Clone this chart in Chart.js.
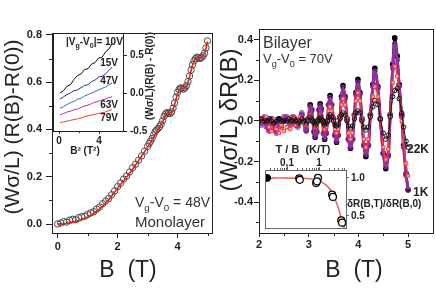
<!DOCTYPE html>
<html>
<head>
<meta charset="utf-8">
<script src="https://cdn.jsdelivr.net/npm/chart.js@4.4.1/dist/chart.umd.min.js"></script>
<style>
  html, body { margin: 0; padding: 0; background: #fff; }
  #fig { position: relative; width: 436px; height: 308px; overflow: hidden; }
  #fig canvas { position: absolute; left: 0; top: 0; }
</style>
</head>
<body>
<div id="fig">
  <canvas id="mono" width="436" height="308"></canvas>
  <canvas id="monoIn" width="436" height="308"></canvas>
  <canvas id="bil" width="436" height="308"></canvas>
  <canvas id="bilIn" width="436" height="308"></canvas>
</div>
<script>
const FONT = '"Liberation Sans", Arial, Helvetica, sans-serif';
const INK = '#222';

// ---------- monolayer (left panel) ----------
const monoB = [0, 0.1, 0.2, 0.3, 0.4, 0.5, 0.6, 0.7, 0.8, 0.9,
  1.0, 1.1, 1.2, 1.3, 1.4, 1.5, 1.6, 1.7, 1.8, 1.9,
  2.0, 2.1, 2.2, 2.3, 2.4, 2.5, 2.6, 2.7, 2.8, 2.9, 3.0,
  3.05, 3.1, 3.15, 3.2, 3.25, 3.3, 3.35, 3.4, 3.45, 3.5,
  3.55, 3.6, 3.65, 3.7, 3.75, 3.8, 3.85, 3.9, 3.95, 4.0,
  4.05, 4.1, 4.15, 4.2, 4.25, 4.3, 4.35, 4.4, 4.45, 4.5,
  4.55, 4.6, 4.65, 4.7, 4.75, 4.8, 4.85, 4.9, 4.95, 5.0];
const monoR = [0.000, 0.004, 0.010, 0.008, 0.016, 0.020, 0.018, 0.027, 0.031, 0.033,
  0.040, 0.047, 0.052, 0.063, 0.072, 0.086, 0.097, 0.108, 0.124, 0.140,
  0.158, 0.173, 0.190, 0.203, 0.220, 0.238, 0.253, 0.270, 0.288, 0.308, 0.328,
  0.340, 0.350, 0.362, 0.377, 0.390, 0.398, 0.404, 0.412, 0.422, 0.437,
  0.455, 0.466, 0.471, 0.469, 0.467, 0.474, 0.490, 0.512, 0.537, 0.556,
  0.569, 0.576, 0.574, 0.571, 0.576, 0.586, 0.603, 0.626, 0.651, 0.674,
  0.690, 0.700, 0.706, 0.703, 0.700, 0.704, 0.711, 0.722, 0.745, 0.775];
const monoFitB = [0, 0.25, 0.5, 0.75, 1.0, 1.25, 1.5, 1.75, 2.0, 2.25, 2.5, 2.75, 3.0,
  3.2, 3.35, 3.5, 3.6, 3.7, 3.8, 3.9, 4.0, 4.1, 4.2, 4.3, 4.4, 4.5, 4.6, 4.7, 4.8, 4.9, 5.0];
const monoFitR = [0, 0.002, 0.007, 0.015, 0.028, 0.048, 0.076, 0.11, 0.152, 0.19, 0.232, 0.278, 0.325,
  0.368, 0.400, 0.432, 0.460, 0.470, 0.472, 0.505, 0.550, 0.572, 0.574, 0.584, 0.622, 0.672, 0.700, 0.704, 0.703, 0.722, 0.772];
const monoXTicks = [0, 2, 4];
const monoXLabels = ['0', '2', '4'];
const monoYTicks = [0, 0.2, 0.4, 0.6, 0.8];
const monoYLabels = ['0.0', '0.2', '0.4', '0.6', '0.8'];

// inset: R vs B^2 for several gate voltages
const insB2 = [0.1, 0.45, 0.8, 1.15, 1.5, 1.85, 2.2, 2.55, 2.9, 3.25, 3.6, 3.95, 4.3, 4.65, 5.0, 5.3];
const ins10V = [0.00, 0.03, 0.09, 0.11, 0.18, 0.23, 0.25, 0.31, 0.32, 0.38, 0.40, 0.46, 0.47, 0.54, 0.58, 0.65];
const ins15V = [-0.08, -0.05, -0.02, 0.00, 0.03, 0.04, 0.07, 0.10, 0.11, 0.15, 0.17, 0.21, 0.22, 0.25, 0.30, 0.34];
const ins47V = [-0.20, -0.18, -0.15, -0.13, -0.11, -0.08, -0.07, -0.04, -0.02, 0.00, 0.02, 0.04, 0.06, 0.08, 0.11, 0.13];
const ins63V = [-0.29, -0.27, -0.25, -0.24, -0.22, -0.21, -0.19, -0.17, -0.16, -0.14, -0.12, -0.11, -0.09, -0.08, -0.06, -0.05];
const ins79V = [-0.39, -0.38, -0.37, -0.36, -0.35, -0.34, -0.33, -0.31, -0.30, -0.29, -0.28, -0.27, -0.26, -0.25, -0.23, -0.22];
const insXTicks = [0, 4];
const insXLabels = ['0', '4'];
const insYTicks = [-0.5, 0, 0.5];
const insYLabels = ['-0.5', '0.0', '0.5'];

// ---------- bilayer (right panel) ----------
const bilB = [2.00, 2.05, 2.10, 2.15, 2.20, 2.25, 2.30, 2.35, 2.40, 2.45, 2.50,
  2.56, 2.60, 2.63, 2.67, 2.70, 2.74, 2.78, 2.82, 2.86, 2.90, 2.95, 2.99,
  3.03, 3.06, 3.08, 3.11, 3.13, 3.16, 3.18, 3.21, 3.23, 3.25, 3.28, 3.30,
  3.32, 3.35, 3.38, 3.40, 3.43, 3.46, 3.50, 3.53, 3.56, 3.59, 3.63, 3.66,
  3.69, 3.73, 3.77, 3.80, 3.84, 3.88, 3.92, 3.95, 3.99, 4.03, 4.07, 4.11,
  4.15, 4.20, 4.24, 4.29, 4.33, 4.39, 4.44, 4.50, 4.55, 4.60, 4.64, 4.69,
  4.73, 4.78, 4.82, 4.87, 4.91, 4.96, 5.00];
const bilBlack = [0.01, 0.00, 0.01, -0.01, 0.00, 0.01, -0.01, 0.00, 0.01, -0.01, 0.00,
  0.01, 0.00, -0.01, 0.00, 0.015, 0.00, -0.02, 0.00, 0.03, 0.00, -0.045, 0.01,
  0.08, 0.055, 0.00, -0.055, -0.08, -0.055, 0.00, 0.055, 0.085, 0.06, 0.00, -0.06,
  -0.09, -0.06, 0.00, 0.08, 0.125, 0.08, 0.01, -0.07, -0.105, -0.07, 0.02, 0.12,
  0.175, 0.12, 0.01, -0.09, -0.135, -0.09, 0.03, 0.14, 0.205, 0.14, 0.01, -0.12,
  -0.175, -0.12, 0.03, 0.18, 0.26, 0.17, 0.01, -0.16, -0.235, -0.17, 0.03, 0.28,
  0.41, 0.32, 0.18, 0.03, -0.12, -0.26, -0.34];
const bil1K = [0.01, -0.02, 0.02, -0.03, -0.05, 0.01, -0.04, -0.06, 0.00, -0.03, 0.02,
  0.02, -0.03, -0.02, 0.02, 0.02, -0.02, -0.03, 0.01, 0.04, -0.01, -0.05, 0.01,
  0.07, 0.05, 0.00, -0.05, -0.075, -0.05, 0.00, 0.05, 0.075, 0.05, 0.00, -0.06,
  -0.085, -0.06, 0.00, 0.08, 0.115, 0.08, 0.01, -0.07, -0.10, -0.07, 0.02, 0.11,
  0.165, 0.11, 0.01, -0.09, -0.13, -0.09, 0.03, 0.13, 0.19, 0.13, 0.01, -0.12,
  -0.165, -0.12, 0.03, 0.17, 0.245, 0.16, 0.01, -0.16, -0.225, -0.17, 0.03, 0.26,
  0.38, 0.30, 0.17, 0.02, -0.13, -0.27, -0.34];
const bilMid = [0.01, 0.00, 0.01, 0.02, -0.03, -0.05, 0.01, -0.04, -0.06, -0.02, -0.05,
  -0.03, 0.01, -0.04, 0.00, 0.02, -0.02, 0.00, 0.02, 0.01, -0.01, -0.02, 0.00,
  0.03, 0.02, 0.00, -0.02, -0.03, -0.02, 0.00, 0.02, 0.03, 0.02, 0.00, -0.03,
  -0.04, -0.03, 0.00, 0.05, 0.07, 0.05, 0.00, -0.04, -0.06, -0.04, 0.02, 0.08,
  0.11, 0.08, 0.01, -0.06, -0.09, -0.06, 0.02, 0.10, 0.14, 0.10, 0.01, -0.09,
  -0.13, -0.09, 0.02, 0.12, 0.17, 0.12, 0.01, -0.13, -0.19, -0.14, 0.02, 0.19,
  0.27, 0.22, 0.11, 0.00, -0.10, -0.21, -0.27];
const bil22K = [0.00, 0.01, 0.00, 0.00, 0.01, 0.00, -0.01, 0.00, 0.01, 0.00, 0.00,
  0.00, 0.01, 0.00, 0.00, 0.01, 0.00, -0.01, 0.00, 0.01, 0.00, -0.01, 0.00,
  0.02, 0.01, 0.00, -0.01, -0.02, -0.01, 0.00, 0.01, 0.02, 0.01, 0.00, -0.01,
  -0.02, -0.01, 0.00, 0.02, 0.03, 0.02, 0.00, -0.02, -0.025, -0.015, 0.01, 0.03,
  0.04, 0.03, 0.00, -0.025, -0.035, -0.025, 0.01, 0.04, 0.05, 0.04, 0.00, -0.03,
  -0.045, -0.03, 0.02, 0.07, 0.10, 0.08, 0.01, -0.06, -0.09, -0.07, 0.02, 0.12,
  0.15, 0.16, 0.11, 0.04, -0.03, -0.10, -0.13];
const bilXTicks = [2, 3, 4, 5];
const bilXLabels = ['2', '3', '4', '5'];
const bilYTicks = [-0.4, -0.2, 0, 0.2, 0.4];
const bilYLabels = ['-0.4', '-0.2', '0.0', '0.2', '0.4'];

// inset: amplitude ratio vs T/B
const ratioTB = [0.24, 0.25, 0.92, 0.81, 0.86, 2.55, 2.7, 4.9, 5.2];
const ratioVal = [0.995, 0.975, 1.0, 0.935, 0.955, 0.78, 0.75, 0.44, 0.41];
const ratio0TB = [0.024];
const ratio0Val = [1.0];
const ratioFitTB = [0.02, 0.1, 0.3, 0.6, 1.0, 1.5, 2.0, 2.5, 3.0, 3.5, 4.0, 4.5, 5.0, 5.5, 6.2];
const ratioFitVal = [1.0, 1.0, 0.995, 0.985, 0.965, 0.92, 0.87, 0.81, 0.74, 0.67, 0.60, 0.53, 0.46, 0.40, 0.33];
const tbTicks = [0.1, 1];
const tbLabels = ['0,1', '1'];
const ratioTicks = [0.5, 1.0];
const ratioLabels = ['0.5', '1.0'];

function pts(xs, ys) { return xs.map((x, i) => ({ x: x, y: ys[i] })); }

function axis(pos, min, max, ticks, labels, o) {
  const vertical = pos === 'left' || pos === 'right';
  const ink = o.ink || INK;
  return {
    type: o.log ? 'logarithmic' : 'linear',
    position: pos, min: min, max: max,
    afterBuildTicks: s => { s.ticks = ticks.map(v => ({ value: v })); },
    afterFit: s => { if (vertical) s.width = o.size; else s.height = o.size; },
    ticks: {
      autoSkip: false, maxRotation: 0, padding: o.pad, color: INK,
      font: { family: FONT, size: o.fs, weight: 'bold' },
      callback: (v, i) => labels[i]
    },
    grid: { drawOnChartArea: false, drawTicks: true, tickLength: o.tl, tickColor: ink, tickWidth: 1 },
    border: { display: true, color: ink, width: 1 }
  };
}

function drawText(ctx, it) {
  const parts = it.parts || [{ t: it.t }];
  const weight = it.bold ? 'bold ' : '';
  const sizes = parts.map(p => (p.sub || p.sup) ? it.size * 0.7 : it.size);
  let total = 0;
  const widths = parts.map((p, i) => {
    ctx.font = weight + sizes[i] + 'px ' + FONT;
    const w = ctx.measureText(p.t).width;
    total += w;
    return w;
  });
  ctx.save();
  ctx.translate(it.x, it.y);
  if (it.rot) ctx.rotate(-Math.PI / 2);
  ctx.fillStyle = it.color || INK;
  ctx.textBaseline = it.rot ? 'middle' : 'alphabetic';
  let x = it.align === 'center' ? -total / 2 : it.align === 'right' ? -total : 0;
  parts.forEach((p, i) => {
    ctx.font = weight + sizes[i] + 'px ' + FONT;
    const dy = p.sub ? it.size * 0.3 : p.sup ? -it.size * 0.4 : 0;
    ctx.fillText(p.t, x, dy);
    x += widths[i];
  });
  ctx.restore();
}

// frame on all four sides, minor ticks, free text
function deco(cfg) {
  return {
    id: 'deco',
    beforeDraw(chart) {
      if (!cfg.fill) return;
      const a = chart.chartArea, ctx = chart.ctx;
      ctx.save();
      ctx.fillStyle = '#fff';
      ctx.fillRect(a.left, a.top, a.right - a.left, a.bottom - a.top);
      ctx.restore();
    },
    afterDraw(chart) {
      const a = chart.chartArea, ctx = chart.ctx;
      ctx.save();
      ctx.strokeStyle = cfg.frame || INK;
      ctx.lineWidth = 1;
      ctx.strokeRect(a.left + 0.5, a.top + 0.5, a.right - a.left, a.bottom - a.top);
      (cfg.minor || []).forEach(m => {
        const s = chart.scales[m.axis];
        m.values.forEach(v => {
          const p = Math.round(s.getPixelForValue(v)) + 0.5;
          ctx.beginPath();
          if (s.position === 'bottom') { ctx.moveTo(p, a.bottom); ctx.lineTo(p, a.bottom + m.len); }
          if (s.position === 'top') { ctx.moveTo(p, a.top); ctx.lineTo(p, a.top - m.len); }
          if (s.position === 'left') { ctx.moveTo(a.left, p); ctx.lineTo(a.left - m.len, p); }
          if (s.position === 'right') { ctx.moveTo(a.right, p); ctx.lineTo(a.right + m.len, p); }
          ctx.stroke();
        });
      });
      ctx.restore();
      (cfg.texts || []).forEach(t => drawText(ctx, t));
    }
  };
}

function makeChart(id, datasets, scales, pad, cfg) {
  return new Chart(document.getElementById(id), {
    type: 'scatter',
    data: { datasets: datasets },
    options: {
      responsive: false, animation: false, events: [],
      layout: { padding: pad, autoPadding: false },
      plugins: { legend: { display: false }, tooltip: { enabled: false } },
      scales: scales
    },
    plugins: [deco(cfg)]
  });
}

const vg = v => [{ t: 'V' }, { t: 'g', sub: 1 }, { t: '-V' }, { t: '0', sub: 1 }, { t: v }];

// left main
makeChart('mono', [
  { data: pts(monoFitB, monoFitR), showLine: true, borderColor: '#e3241e', borderWidth: 1.6,
    pointRadius: 0, cubicInterpolationMode: 'monotone', order: 1 },
  { data: pts(monoB, monoR), borderColor: '#4a4a4a', backgroundColor: 'rgba(0,0,0,0)',
    pointRadius: 3.2, pointBorderWidth: 1, order: 2 }
], {
  x: axis('bottom', -0.19, 5.15, monoXTicks, monoXLabels, { size: 20, pad: 2, tl: 5, fs: 11 }),
  y: axis('left', -0.038, 0.808, monoYTicks, monoYLabels, { size: 30, pad: 4, tl: 6, fs: 11 })
}, { left: 22, top: 33, right: 224, bottom: 55 }, {
  minor: [{ axis: 'x', values: [1, 3, 5], len: 3 }, { axis: 'y', values: [0.1, 0.3, 0.5, 0.7], len: 3 }],
  texts: [
    { t: '(W\u03c3/L) (R(B)-R(0))', x: 13, y: 127, size: 21, rot: true, align: 'center' },
    { t: 'B  (T)', x: 128, y: 277, size: 23, align: 'center' },
    { parts: vg(' = 48V'), x: 135, y: 207, size: 14, color: '#333' },
    { t: 'Monolayer', x: 135, y: 227, size: 15, color: '#333' }
  ]
});

// left inset
makeChart('monoIn', [
  { data: pts(insB2, ins10V), showLine: true, borderColor: '#111', borderWidth: 1, pointRadius: 0 },
  { data: pts(insB2, ins15V), showLine: true, borderColor: '#2d2f9c', borderWidth: 1, pointRadius: 0 },
  { data: pts(insB2, ins47V), showLine: true, borderColor: '#3a6fcc', borderWidth: 1, pointRadius: 0 },
  { data: pts(insB2, ins63V), showLine: true, borderColor: '#a03cc0', borderWidth: 1, pointRadius: 0 },
  { data: pts(insB2, ins79V), showLine: true, borderColor: '#f03a3a', borderWidth: 1, pointRadius: 0 }
], {
  x: axis('bottom', -0.6, 6.4, insXTicks, insXLabels, { size: 14, pad: 1, tl: 3, fs: 10 }),
  y: axis('right', -0.5, 0.79, insYTicks, insYLabels, { size: 30, pad: 3, tl: 4, fs: 10 })
}, { left: 53, top: 33, right: 283, bottom: 163 }, {
  fill: true,
  minor: [{ axis: 'x', values: [2], len: 2 }],
  texts: [
    { parts: [{ t: '|V' }, { t: 'g', sub: 1 }, { t: '-V' }, { t: '0', sub: 1 }, { t: '|= 10V' }], x: 66, y: 45, size: 10, bold: true },
    { t: '15V', x: 118, y: 66, size: 10, bold: true, align: 'right' },
    { t: '47V', x: 118, y: 84, size: 10, bold: true, align: 'right' },
    { t: '63V', x: 118, y: 108, size: 10, bold: true, align: 'right' },
    { t: '79V', x: 118, y: 121, size: 10, bold: true, align: 'right' },
    { t: '(W\u03c3/L)(R(B) - R(0))', x: 150, y: 76, size: 10, bold: true, rot: true, align: 'center' },
    { t: 'B\u00b2 (T\u00b2)', x: 85, y: 154, size: 10, bold: true, align: 'center' }
  ]
});

// right main
makeChart('bil', [
  { data: pts(bilB, bilBlack), showLine: true, tension: 0.35, borderColor: '#000', borderWidth: 2.5,
    backgroundColor: '#000', pointRadius: 1.6, order: 4 },
  { data: pts(bilB, bil1K), showLine: true, tension: 0.35, borderColor: '#93309f', borderWidth: 3,
    backgroundColor: 'rgba(0,0,0,0)', pointRadius: 2.4, pointBorderWidth: 1, order: 3 },
  { data: pts(bilB, bilMid), showLine: true, tension: 0.35, borderColor: '#ff3a3a', borderWidth: 1.2,
    backgroundColor: 'rgba(255,255,255,0.6)', pointStyle: 'rect', pointRadius: 2.2, pointBorderWidth: 1, order: 2 },
  { data: pts(bilB, bil22K), showLine: true, tension: 0.35, borderColor: '#111', borderWidth: 1,
    backgroundColor: 'rgba(0,0,0,0)', pointRadius: 2.2, pointBorderWidth: 1, order: 1 }
], {
  x: axis('bottom', 2, 5.5, bilXTicks, bilXLabels, { size: 20, pad: 1, tl: 4, fs: 11 }),
  y: axis('left', -0.553, 0.454, bilYTicks, bilYLabels, { size: 36, pad: 1, tl: 5, fs: 11 })
}, { left: 223, top: 29, right: 3, bottom: 55 }, {
  minor: [{ axis: 'x', values: [2.5, 3.5, 4.5], len: 3 }, { axis: 'y', values: [-0.5, -0.3, -0.1, 0.1, 0.3], len: 3 }],
  texts: [
    { t: '(W\u03c3/L) \u03b4R(B)', x: 230, y: 120, size: 24, rot: true, align: 'center' },
    { t: 'B  (T)', x: 354, y: 277, size: 23, align: 'center' },
    { t: 'Bilayer', x: 263, y: 48, size: 16, color: '#333' },
    { parts: vg(' = 70V'), x: 263, y: 63, size: 13, color: '#333' },
    { t: '22K', x: 407, y: 153, size: 12, bold: true },
    { t: '1K', x: 413, y: 196, size: 12, bold: true }
  ]
});

// right inset
makeChart('bilIn', [
  { data: pts(ratio0TB, ratio0Val), borderColor: '#000', backgroundColor: '#000', pointRadius: 3.5, order: 1 },
  { data: pts(ratioTB, ratioVal), borderColor: '#000', backgroundColor: '#fff', pointRadius: 3.5, pointBorderWidth: 1.2, order: 1 },
  { data: pts(ratioFitTB, ratioFitVal), showLine: true, tension: 0.4, borderColor: '#f05050', borderWidth: 1.4, pointRadius: 0, order: 2 }
], {
  x: axis('top', 0.0206, 6.9, tbTicks, tbLabels, { log: true, size: 12, pad: -2, tl: 3, fs: 10, ink: '#666' }),
  y: axis('right', 0.34, 1.105, ratioTicks, ratioLabels, { size: 20, pad: 2, tl: 3, fs: 10, ink: '#666' })
}, { left: 265, top: 158, right: 70, bottom: 80 }, {
  fill: true, frame: '#666',
  minor: [{ axis: 'x', values: [0.03, 0.04, 0.05, 0.06, 0.07, 0.08, 0.09, 0.2, 0.3, 0.4, 0.5, 0.6, 0.7, 0.8, 0.9, 2, 3, 4, 5, 6], len: 2 }],
  texts: [
    { t: 'T / B  (K/T)', x: 303, y: 153, size: 11, bold: true, align: 'center' },
    { t: '\u03b4R(B,T)/\u03b4R(B,0)', x: 347, y: 207, size: 10, bold: true }
  ]
});
</script>
</body>
</html>
